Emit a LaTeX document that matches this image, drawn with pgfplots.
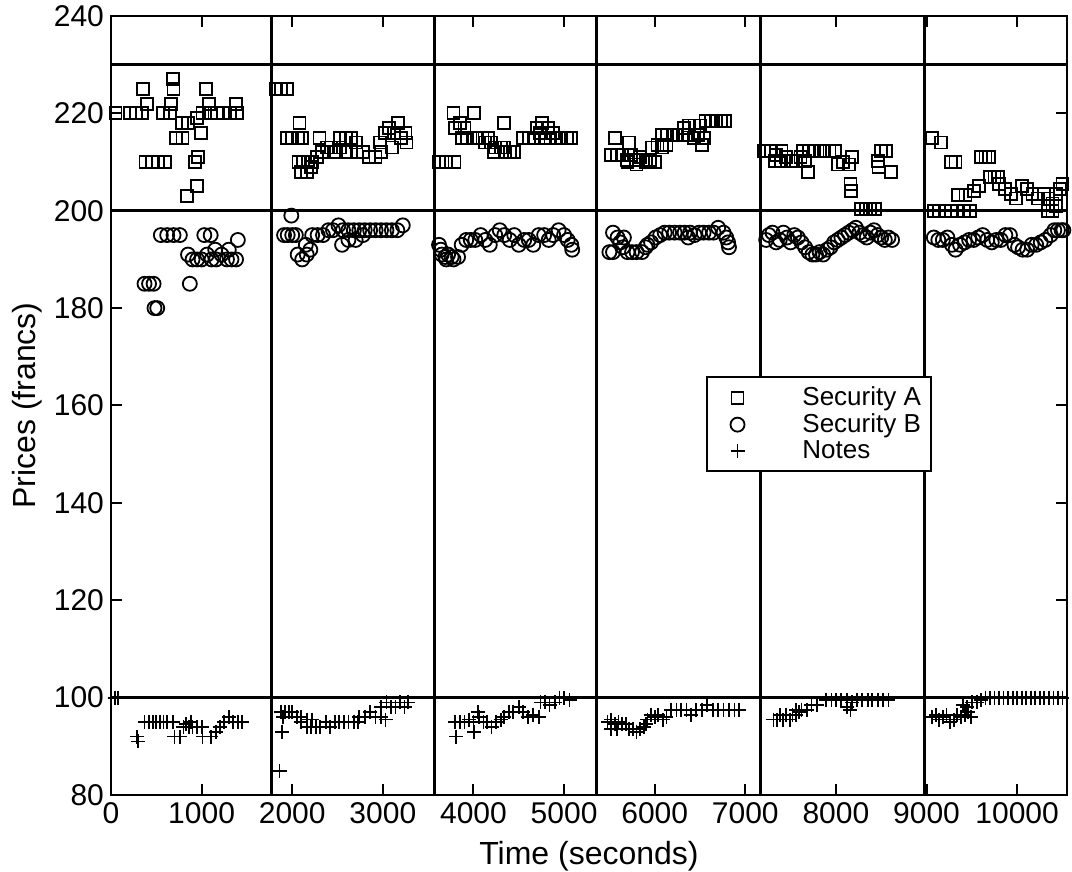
\documentclass[border=0pt]{standalone}
\usepackage{pgfplots}
\pgfplotsset{compat=1.18}
\usepackage{fontspec}
\setmainfont{Liberation Sans}
\pgfplotsset{legmark/.style={legend image code/.code={\draw[##1] plot coordinates {(12pt,0pt)}; \path (0pt,0pt) (42pt,0pt);}}}
\begin{document}
\begin{tikzpicture}
\path[use as bounding box] (-55.5pt,-38.5pt) rectangle (480.5pt,397.5pt);
\begin{axis}[
  at={(0,0)}, anchor=south west, scale only axis, width=478pt, height=389.5pt,
  xmin=0, xmax=10550, ymin=80, ymax=240,
  xtick={0,1000,...,10000}, ytick={80,100,...,240},
  scaled x ticks=false,
  tick align=inside, major tick length=5.5pt,
  axis line style={line width=1.3pt},
  every tick/.style={black, line width=1pt},
  tick label style={font=\fontsize{15}{17}\selectfont},
  /pgf/number format/assume math mode=true,
  /pgf/number format/1000 sep={},
  xlabel={Time (seconds)}, ylabel={Prices (francs)},
  label style={font=\fontsize{16}{18}\selectfont},
  xlabel style={yshift=-2pt},
  ylabel style={yshift=-1pt},
  legend style={at={(0.622,0.538)}, anchor=north west, draw=black, line width=1pt, fill=white,
    font=\fontsize{13}{13}\selectfont, cells={anchor=west}, inner ysep=3pt, inner xsep=3pt,
    row sep=-1.5pt},
]
\addplot[only marks, mark=square, mark size=3pt, line width=0.9pt, legmark] coordinates {
(50,220) (210,220) (280,220) (340,220) (350,225) (400,222) (380,210) (450,210) (520,210) (600,210) (570,220) (650,220) (680,227) (690,225) (660,222) (780,218) (850,218) (720,215) (790,215) (990,216) (1050,225) (1080,222) (950,219) (1010,220) (1100,220) (1170,220) (1240,220) (1310,220) (1390,220) (1380,222) (930,210) (960,211) (840,203) (950,205)
(1820,225) (1880,225) (1940,225) (2080,218) (1940,215) (2000,215) (2060,215) (2110,215) (2300,215) (2070,210) (2120,210) (2170,210) (2220,210) (2100,208) (2160,208) (2210,209) (2270,211) (2330,212) (2380,213) (2430,213) (2480,212) (2530,213) (2590,212) (2530,215) (2590,215) (2650,215) (2700,214) (2710,212) (2780,212) (2850,211) (2920,211) (2980,212) (2970,214) (3020,216) (3070,217) (3120,216) (3170,218) (3200,215) (3250,216) (3260,214) (3100,213)
(3780,220) (4010,220) (4340,218) (3620,210) (3700,210) (3790,210) (3800,217) (3850,218) (3900,217) (3870,215) (3930,215) (3990,215) (4040,215) (4100,215) (4160,215) (4130,214) (4190,214) (4240,213) (4300,213) (4350,212) (4400,212) (4450,212) (4230,212) (4340,213) (4550,215) (4610,215) (4670,215) (4730,216) (4790,215) (4850,215) (4910,215) (4970,215) (5030,215) (5080,215) (4700,217) (4760,218) (4820,217) (4880,216)
(5560,215) (5720,214) (5520,211.5) (5580,211.5) (5640,211.5) (5690,210.5) (5740,211.5) (5790,210.5) (5840,211) (5900,210) (5950,210.5) (6000,210) (5700,210) (5800,209.5) (5970,213) (6030,213.5) (6080,213) (6130,213.5) (6080,215.5) (6140,215.5) (6200,215.5) (6250,215.5) (6310,215.5) (6370,215.5) (6430,215) (6480,215.5) (6540,215) (6320,217) (6380,217.5) (6440,217.5) (6500,217.5) (6560,218.5) (6620,218.5) (6680,218.5) (6730,218.5) (6780,218.5) (6520,213.5)
(7210,212.2) (7280,212.2) (7340,211.5) (7400,212.2) (7330,210.2) (7390,210.2) (7450,211) (7500,210.2) (7560,210.2) (7610,211) (7660,210.2) (7640,212.2) (7700,212.2) (7760,212.2) (7820,212.2) (7870,212.2) (7930,212.2) (7990,212.2) (7690,208) (8020,209.5) (8080,210) (8140,209.5) (8180,211) (8160,205.5) (8170,204) (8280,200.3) (8330,200.3) (8380,200.3) (8430,200.3) (8500,212.2) (8550,212.2) (8460,210.2) (8470,209) (8610,208)
(9060,215) (9160,214) (9270,210) (9320,210) (9600,211) (9650,211) (9690,211) (9700,207) (9750,207) (9790,207) (9350,203.3) (9430,203.3) (9520,204) (9580,205) (9800,205.5) (9870,204.5) (9930,203.5) (9990,202.5) (10050,205) (10110,204.5) (10170,203.5) (10230,202.5) (10290,203.5) (10340,202.5) (10390,201.5) (10430,203.5) (10470,204.5) (10500,205.5) (9080,200) (9140,200) (9200,200) (9270,200) (9340,200) (9410,200) (9480,200) (10340,200) (10390,200) (10430,201)
};
\addlegendentry{Security A}
\addplot[only marks, mark=o, mark size=3.5pt, line width=0.9pt, legmark] coordinates {
(550,195) (620,195) (690,195) (760,195) (1030,195) (1100,195) (1400,194) (850,191) (900,190) (950,190) (1000,190) (1060,191) (1110,190) (1160,190) (1220,191) (1280,190) (1330,190) (1380,190) (1300,192) (1150,192) (370,185) (420,185) (470,185) (870,185) (480,180) (510,180)
(1990,199) (1910,195) (1950,195) (2000,195) (2040,195) (2060,191) (2110,190) (2160,191) (2200,192) (2150,193) (2220,195) (2280,195) (2340,195) (2400,196) (2450,196) (2510,197) (2560,196) (2620,196) (2680,196) (2740,196) (2800,196) (2860,196) (2920,196) (2980,196) (3040,196) (3100,196) (3160,196) (3220,197) (2550,193) (2620,194) (2700,194) (2780,195)
(3620,193) (3640,192) (3650,191) (3720,191) (3780,190) (3700,190) (3690,190.5) (3760,190.5) (3830,190.5) (3870,193) (3920,194) (3970,194) (4020,194) (4080,195) (4130,194) (4180,193) (4240,195) (4290,196) (4340,195) (4400,194) (4450,195) (4500,193) (4560,194) (4610,194) (4660,193) (4720,195) (4780,195) (4830,194) (4880,195) (4940,196) (5000,195) (5040,194) (5080,193) (5090,192)
(5500,191.5) (5540,191.5) (5540,195.5) (5590,194.5) (5620,193.5) (5660,194.5) (5650,192.5) (5700,191.5) (5750,191.5) (5800,191.5) (5860,191.5) (5900,192.5) (5920,193) (5960,193.5) (6010,194.5) (6060,195) (6110,195.5) (6160,195.5) (6220,195.5) (6280,195.5) (6330,195.5) (6390,195.5) (6440,195) (6490,195.5) (6540,195.5) (6600,195.5) (6650,195.5) (6700,196.5) (6760,195.5) (6790,194.5) (6810,193.5) (6820,192.5) (6370,194.5)
(7230,194) (7260,195) (7300,195.5) (7340,193.5) (7380,194) (7420,195.5) (7460,194.5) (7500,193.5) (7540,195) (7580,194.5) (7620,193.5) (7660,192.5) (7700,191.5) (7740,191) (7780,191) (7820,191.5) (7860,191) (7900,192) (7940,192.5) (7980,193.5) (8020,194) (8060,194.5) (8100,195) (8140,195.5) (8180,196) (8220,196.5) (8260,195.5) (8300,195) (8340,194.5) (8380,195.5) (8420,196) (8460,195) (8500,194.5) (8540,194) (8580,194.5) (8620,194)
(9080,194.5) (9130,194) (9180,194) (9230,194.5) (9280,193) (9320,192) (9370,193) (9420,193.5) (9470,194) (9520,194) (9570,194.5) (9620,195) (9670,194) (9720,193.5) (9770,194) (9820,194) (9870,195) (9920,195) (9970,193) (10010,192.5) (10060,192) (10110,192) (10160,193) (10210,193) (10260,193.5) (10310,194) (10370,195) (10410,196) (10450,196) (10490,196) (10510,196)
};
\addlegendentry{Security B}
\addplot[only marks, mark=+, mark size=3.5pt, line width=0.9pt, legmark] coordinates {
(40,100) (80,100) (290,92) (300,91) (370,95) (420,95) (460,95) (500,95) (540,95) (580,95) (620,95) (680,95) (700,92) (760,92) (800,94) (860,94) (900,94) (950,94) (1000,94) (830,94.5) (880,95) (1010,92) (1100,92) (1160,93) (1200,94) (1250,95) (1300,96) (1350,95) (1400,95) (1450,95)
(1860,85) (1890,93) (1880,97) (1920,97) (1960,97) (2000,97) (1900,96) (2050,96) (2100,96) (2100,95) (2160,94) (2210,94) (2260,94) (2310,94) (2370,95) (2420,94) (2470,95) (2520,95) (2570,95) (2620,95) (2680,95) (2730,95) (2160,95.5) (2220,95.5) (2740,96) (2800,96) (2860,97) (2920,96) (2980,96) (3030,95.5) (2980,98) (3040,99) (3090,98) (3140,98) (3190,99) (3240,98) (3280,99)
(3810,92) (4010,93) (3800,95) (3850,95) (3900,95) (3950,95.5) (4000,95) (4060,96) (4110,95) (4150,95) (4200,94) (4250,95) (4300,95.5) (4050,97) (4340,96) (4390,97) (4440,97) (4500,98) (4550,97) (4600,96) (4660,96.5) (4720,96) (4740,99) (4790,99) (4840,98.5) (4900,99) (4950,100) (5000,100) (5060,99.5)
(5480,95) (5520,95.5) (5560,94.5) (5600,95) (5640,94.5) (5520,93.5) (5580,93.5) (5680,94.5) (5720,93.5) (5760,93.5) (5800,93) (5840,93.5) (5880,94) (5900,94.5) (5920,95.5) (5960,96.5) (6000,96) (6040,96.5) (6090,95.5) (6130,96) (6180,97.5) (6240,97.5) (6290,97.5) (6350,97.5) (6400,96.5) (6460,97.5) (6520,97.5) (6580,98.5) (6640,97.5) (6700,97.5) (6760,97.5) (6820,97.5) (6880,97.5) (6930,97.5)
(7310,95.5) (7350,95.5) (7380,96.5) (7420,95.5) (7450,96.5) (7490,95.5) (7520,96.5) (7560,96.5) (7590,97) (7560,97.5) (7620,97.5) (7680,97.5) (7730,98.5) (7790,98.5) (7890,99.5) (7950,99.5) (8000,99.5) (8060,99.5) (8120,99.5) (8180,99) (8230,99.5) (8290,99.5) (8350,99.5) (8400,99.5) (8460,99.5) (8520,99.5) (8580,99.5) (8120,98) (8160,97.5)
(9060,96) (9100,96.5) (9140,95.5) (9180,96) (9220,96.5) (9260,95) (9300,95.5) (9340,96.5) (9380,96) (9420,96.5) (9460,97) (9490,96) (9400,98.5) (9450,98) (9500,99) (9560,99) (9600,99.5) (9650,100) (9700,100) (9750,100) (9800,100) (9850,100) (9900,100) (9950,100) (10000,100) (10050,100) (10100,100) (10150,100) (10200,100) (10250,100) (10300,100) (10350,100) (10400,100) (10450,100) (10500,100)
};
\addlegendentry{Notes}
\addplot[black, line width=1.3pt, forget plot] coordinates {(0,230) (10550,230)};
\addplot[black, line width=1.3pt, forget plot] coordinates {(0,200) (10550,200)};
\addplot[black, line width=1.3pt, forget plot] coordinates {(0,100) (10550,100)};
\addplot[black, line width=1.3pt, forget plot] coordinates {(1770,80) (1770,240)};
\addplot[black, line width=1.3pt, forget plot] coordinates {(3570,80) (3570,240)};
\addplot[black, line width=1.3pt, forget plot] coordinates {(5360,80) (5360,240)};
\addplot[black, line width=1.3pt, forget plot] coordinates {(7165,80) (7165,240)};
\addplot[black, line width=1.3pt, forget plot] coordinates {(8975,80) (8975,240)};
\end{axis}
\end{tikzpicture}
\end{document}
